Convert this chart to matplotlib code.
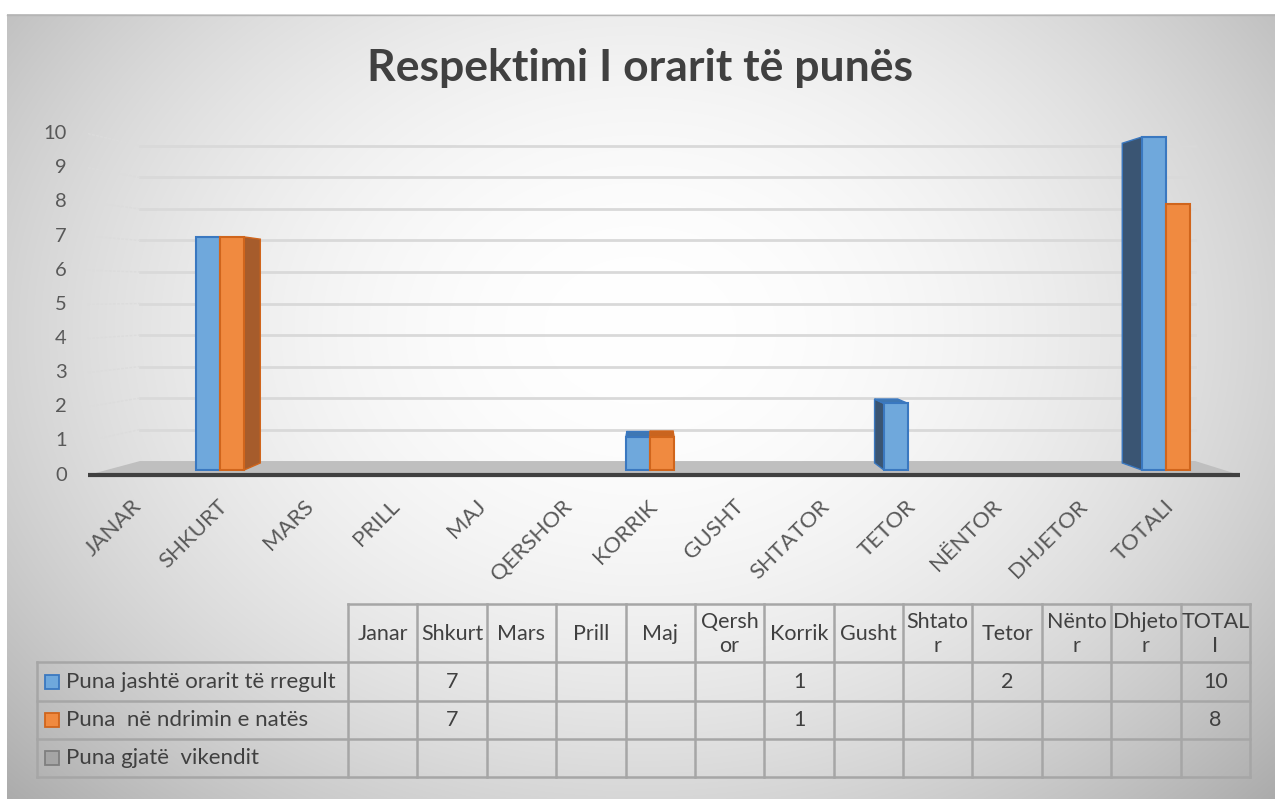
import numpy as np
import matplotlib
matplotlib.use('Agg')
import matplotlib.pyplot as plt
from matplotlib.patches import Polygon, Rectangle

plt.rcParams['font.family'] = ['Lato', 'DejaVu Sans']

# data
months = ['JANAR', 'SHKURT', 'MARS', 'PRILL', 'MAJ', 'QERSHOR', 'KORRIK',
          'GUSHT', 'SHTATOR', 'TETOR', 'NËNTOR', 'DHJETOR', 'TOTALI']
table_headers = ['Janar', 'Shkurt', 'Mars', 'Prill', 'Maj', 'Qersh\nor', 'Korrik',
                 'Gusht', 'Shtato\nr', 'Tetor', 'Nënto\nr', 'Dhjeto\nr', 'TOTAL\nI']
series_names = ['Puna jashtë orarit të rregult', 'Puna  në ndrimin e natës',
                'Puna gjatë  vikendit']
jashte = [None, 7, None, None, None, None, 1, None, None, 2, None, None, 10]
nate = [None, 7, None, None, None, None, 1, None, None, None, None, None, 8]
vikend = [None] * 13
series = [jashte, nate, vikend]

front_colors = ['#6FA8DC', '#F08A40', '#A5A5A5']
edge_colors = ['#3A78C0', '#D0651C', '#7F7F7F']
side_colors = ['#3A5573', '#A65C2C', '#6E6E6E']
top_colors = ['#3F77B3', '#C9641F', '#8A8A8A']
text_col = '#595959'
table_col = '#404040'
W, H = 1275, 799

fig = plt.figure(figsize=(W / 100, H / 100), dpi=100)
fig.patch.set_facecolor('white')

# background with radial gradient
ax_bg = fig.add_axes([0, 0, 1, 1])
ax_bg.set_xlim(0, W)
ax_bg.set_ylim(H, 0)
ax_bg.axis('off')
yy, xx = np.mgrid[14:H, 7:W]
r2 = ((xx - 640) / 650.0) ** 2 + ((yy - 330) / 500.0) ** 2
shade = 1 - 0.18 * r2
img = np.dstack([shade] * 3).clip(0, 1)
ax_bg.imshow(img, extent=(7, W, H, 14), aspect='auto', zorder=0)
ax_bg.plot([7, W], [14.5, 14.5], color='#B5B5B5', lw=1, zorder=1)
ax_bg.text(640, 68, 'Respektimi I orarit të punës', fontsize=32, fontweight='bold',
           color='#404040', ha='center', va='center')

# main plot, x in category units, y in values
ax = fig.add_axes([60 / W, 1 - 500 / H, 1200 / W, 380 / H])
ax.set_xlim((60 - 134) / 86, (1260 - 134) / 86)
ax.set_ylim(-0.9, 10.51)
ax.axis('off')
ax.patch.set_alpha(0)

# floor
ax.add_patch(Polygon([(-0.535, -0.15), (12.86, -0.15), (12.34, 0.27), (0.07, 0.27)],
                     closed=True, facecolor='#BFBFBF', edgecolor='none', zorder=1))
ax.plot([-0.535, 12.86], [-0.15, -0.15], color='#404040', lw=3, zorder=2,
        solid_capstyle='butt')

# gridlines on back wall and left wall, y tick labels
for v in range(0, 11):
    yb = 0.27 + v * 0.946
    yf = -0.15 + v * 1.025
    if v > 0:
        ax.plot([0.07, 12.34], [yb, yb], color='#D9D9D9', lw=2, zorder=1)
        ax.plot([-0.535, 0.07], [yf, yb], color='#DCDCDC', lw=1, ls=(0, (2, 1)), zorder=1)
    ax.text(-0.78, yf, str(v), fontsize=14.5, color=text_col, ha='right', va='center')

# bars with simple perspective
V = (6.0, 5.3)
K = 0.04
w = 0.28


def back(x, y):
    return x + (V[0] - x) * K, y + (V[1] - y) * K


fronts = []
for s, vals in enumerate(series[:2]):
    off = -1 if s == 0 else 0
    for i, h in enumerate(vals):
        if h is None:
            continue
        x0 = i + off * w
        x1 = x0 + w
        xe = x1 if x1 < V[0] else x0
        ax.add_patch(Polygon([(xe, 0), (xe, h), back(xe, h), back(xe, 0)], closed=True,
                             facecolor=side_colors[s], edgecolor=edge_colors[s],
                             lw=1, zorder=3))
        if h < V[1]:
            ax.add_patch(Polygon([(x0, h), (x1, h), back(x1, h), back(x0, h)], closed=True,
                                 facecolor=top_colors[s], edgecolor=edge_colors[s],
                                 lw=1, zorder=3))
        fronts.append((x0, h, s))
for x0, h, s in fronts:
    ax.add_patch(Rectangle((x0, 0), w, h, facecolor=front_colors[s],
                           edgecolor=edge_colors[s], lw=1.5, zorder=4))

# category labels
for i, m in enumerate(months):
    ax.text(i + 0.05, -1.0, m, rotation=45, rotation_mode='anchor', ha='right',
            va='center', fontsize=16, color=text_col, clip_on=False)

# data table
ax_tab = fig.add_axes([0, 0, 1, 1])
ax_tab.set_xlim(0, W)
ax_tab.set_ylim(H, 0)
ax_tab.axis('off')
ax_tab.patch.set_alpha(0)
cols = np.linspace(348, 1250, 14)
rows = [604, 662, 701, 739, 777]
lc = '#A6A6A6'
for x in cols:
    ax_tab.plot([x, x], [rows[0], rows[-1]], color=lc, lw=1.8)
ax_tab.plot([cols[0], cols[-1]], [rows[0], rows[0]], color=lc, lw=1.8)
for y in rows[1:]:
    ax_tab.plot([37, cols[-1]], [y, y], color=lc, lw=1.8)
ax_tab.plot([37, 37], [rows[1], rows[-1]], color=lc, lw=1.8)

for j, hd in enumerate(table_headers):
    ax_tab.text((cols[j] + cols[j + 1]) / 2, (rows[0] + rows[1]) / 2 + 1, hd,
                ha='center', va='center', fontsize=15.5, color=table_col,
                linespacing=1.3)
for s, vals in enumerate(series):
    yc = (rows[s + 1] + rows[s + 2]) / 2
    ax_tab.add_patch(Rectangle((45, yc - 7), 14, 14, facecolor=front_colors[s],
                               edgecolor=edge_colors[s], lw=1.3))
    ax_tab.text(66, yc, series_names[s], ha='left', va='center', fontsize=16,
                color=table_col)
    for j, v in enumerate(vals):
        if v is not None:
            ax_tab.text((cols[j] + cols[j + 1]) / 2, yc, str(v), ha='center',
                        va='center', fontsize=15.5, color=table_col)

fig.savefig('out.png', dpi=100)
